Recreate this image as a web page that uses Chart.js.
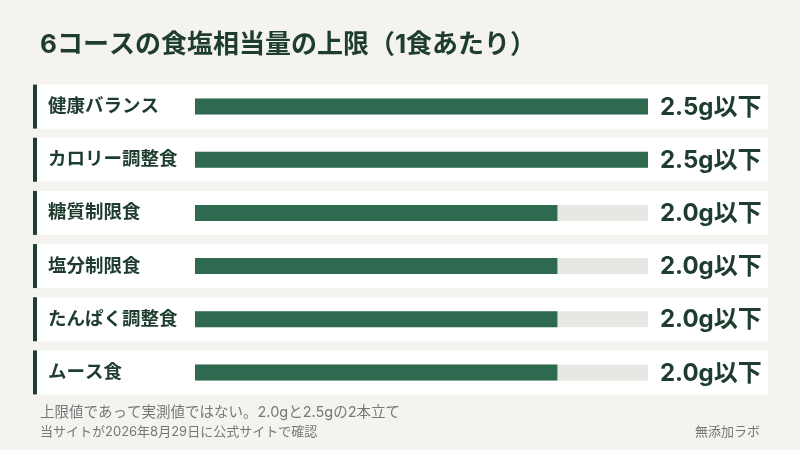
<!DOCTYPE html>
<html lang="ja">
<head>
<meta charset="UTF-8">
<script src="https://cdn.jsdelivr.net/npm/chart.js"></script>
<style>
  html, body { margin: 0; padding: 0; background: #f4f3ef; }
  #wrap { width: 800px; height: 450px; position: relative; }
</style>
</head>
<body>
<div id="wrap"><canvas id="c"></canvas></div>
<script>
const courses = ["健康バランス", "カロリー調整食", "糖質制限食", "塩分制限食", "たんぱく調整食", "ムース食"];
const saltLimit = [2.5, 2.5, 2.0, 2.0, 2.0, 2.0];
const valueLabels = ["2.5g以下", "2.5g以下", "2.0g以下", "2.0g以下", "2.0g以下", "2.0g以下"];
const axisMax = 2.5;

const FONT = 'Inter, "Noto Sans CJK JP", sans-serif';
const GREEN = "#2d6a4f";
const DARK = "#1f3d2f";

const decor = {
  id: "decor",
  beforeDatasetsDraw(chart) {
    const ctx = chart.ctx;
    const y = chart.scales.y;
    ctx.save();
    ctx.fillStyle = DARK;
    ctx.font = "bold 26px " + FONT;
    ctx.textBaseline = "middle";
    ctx.textAlign = "left";
    ctx.fillText("6コースの食塩相当量の上限（1食あたり）", 40, 45);
    courses.forEach((name, i) => {
      const cy = y.getPixelForValue(i);
      ctx.fillStyle = "#ffffff";
      ctx.fillRect(33, cy - 22, 735, 44);
      ctx.fillStyle = DARK;
      ctx.fillRect(33, cy - 22, 4, 44);
      ctx.font = "bold 18.5px " + FONT;
      ctx.fillStyle = DARK;
      ctx.textAlign = "left";
      ctx.fillText(name, 48, cy);
      ctx.font = "bold 24px " + FONT;
      ctx.fillText(valueLabels[i], 660, cy + 1);
    });
    ctx.fillStyle = "#777";
    ctx.font = "14.5px " + FONT;
    ctx.fillText("上限値であって実測値ではない。2.0gと2.5gの2本立て", 40, 413);
    ctx.font = "13px " + FONT;
    ctx.fillText("当サイトが2026年8月29日に公式サイトで確認", 40, 432);
    ctx.textAlign = "right";
    ctx.fillText("無添加ラボ", 760, 432);
    ctx.restore();
  }
};

new Chart(document.getElementById("c"), {
  type: "bar",
  data: {
    labels: courses,
    datasets: [
      { data: saltLimit, backgroundColor: GREEN, order: 0 },
      { data: courses.map(() => axisMax), backgroundColor: "#e6e8e3", order: 1 }
    ]
  },
  options: {
    indexAxis: "y",
    responsive: true,
    maintainAspectRatio: false,
    animation: false,
    grouped: false,
    barPercentage: 1,
    categoryPercentage: 0.3,
    layout: { padding: { left: 195, right: 152, top: 80, bottom: 51 } },
    plugins: { legend: { display: false }, tooltip: { enabled: false } },
    scales: {
      x: { display: false, min: 0, max: axisMax },
      y: { display: false }
    }
  },
  plugins: [decor]
});
</script>
</body>
</html>
